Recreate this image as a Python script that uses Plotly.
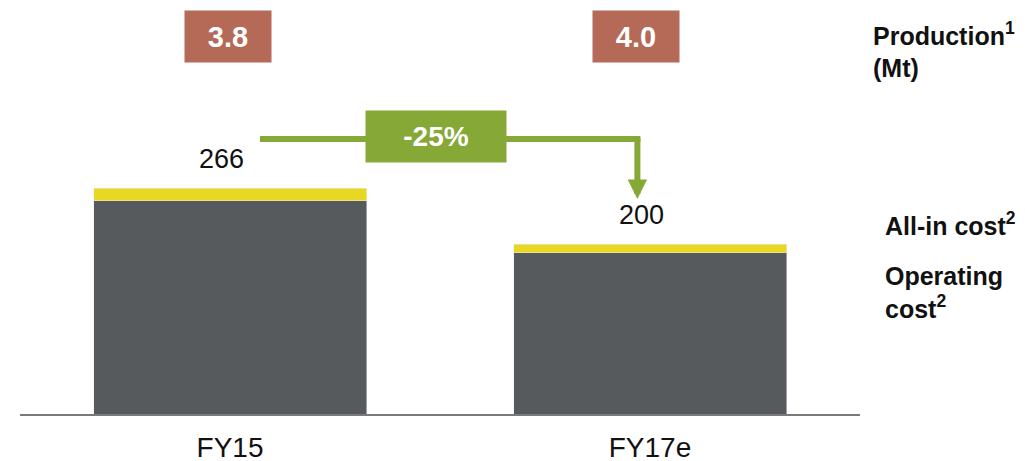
import plotly.graph_objects as go

# ---- data ----
categories = ["FY15", "FY17e"]
operating_cost = [251, 190]
all_in_cost = [266, 200]
production = [3.8, 4.0]
change_label = "-25%"

allin_extra = [a - o for a, o in zip(all_in_cost, operating_cost)]

DARK = "#575a5d"
YELLOW = "#e9d823"
GREEN = "#86a837"
BRICK = "#b56a57"
FONT = "Liberation Sans, Arial, sans-serif"

# page is offset by the 8px body margin
OFF = 8
FIG_W = 1025 - OFF
FIG_H = 461 - OFF
PLOT_H = 406  # plot area height in px (page y 8 .. 414)
PX = 0.8496  # px per unit
Y_MAX = PLOT_H / PX


def up(px):
    return px / PX


def page_y_to_data(py):
    return (414 - py) / PX


fig = go.Figure()
fig.add_trace(go.Bar(x=categories, y=operating_cost, marker_color=DARK,
                     width=0.65, name="Operating cost", hoverinfo="skip"))
fig.add_trace(go.Bar(x=categories, y=allin_extra, marker_color=YELLOW,
                     width=0.65, name="All-in cost", hoverinfo="skip"))

annotations = []
# value labels above bars
for i, (c, v) in enumerate(zip(categories, all_in_cost)):
    annotations.append(dict(x=i, y=v, text=str(v), showarrow=False,
                            xshift=-9, yanchor="bottom", yshift=12,
                            font=dict(family=FONT, size=27, color="#111111")))
# production boxes
for i, p in enumerate(production):
    annotations.append(dict(x=i, y=page_y_to_data(36.5), text=f"<b>{p:.1f}</b>",
                            showarrow=False, xshift=-2 - 12 * i,
                            bgcolor=BRICK, width=86, height=51, borderpad=0,
                            font=dict(family=FONT, size=29, color="white")))

# arrow geometry
line_y = page_y_to_data(139)
x_start = 0.0714
x_end = 0.970
tip_y = page_y_to_data(199)

fig.add_shape(type="line", x0=x_start, x1=x_end + 0.0071, y0=line_y, y1=line_y,
              xref="x", yref="y", line=dict(color=GREEN, width=6))
annotations.append(dict(x=x_end, y=tip_y, ax=x_end, ay=line_y + up(3),
                        axref="x", ayref="y", xref="x", yref="y", text="",
                        showarrow=True, arrowhead=2, arrowsize=0.65,
                        arrowwidth=6, arrowcolor=GREEN, standoff=0,
                        startstandoff=0))
annotations.append(dict(x=0.49, y=page_y_to_data(136.5), text=f"<b>{change_label}</b>",
                        showarrow=False, bgcolor=GREEN, width=140, height=51,
                        borderpad=0,
                        font=dict(family=FONT, size=28, color="white")))

# right-side legend texts
side = [
    ("Production<sup>1</sup><br>(Mt)", 871, 50),
    ("All-in cost<sup>2</sup>", 883, 224),
    ("Operating<br>cost<sup>2</sup>", 883, 292),
]
for txt, px, py in side:
    annotations.append(dict(xref="paper", yref="paper",
                            x=(px - 20) / 840, y=(414 - py) / PLOT_H,
                            xanchor="left", yanchor="middle", align="left",
                            text=f"<b>{txt}</b>", showarrow=False,
                            font=dict(family=FONT, size=25, color="#111111")))

fig.update_layout(
    barmode="stack",
    width=FIG_W, height=FIG_H,
    margin=dict(l=20 - OFF, r=FIG_W - (860 - OFF), t=0,
                b=FIG_H - PLOT_H, autoexpand=False),
    paper_bgcolor="white", plot_bgcolor="white",
    showlegend=False,
    annotations=annotations,
    xaxis=dict(range=[-0.5, 1.5], showline=True, linecolor="#7a7a7a",
               linewidth=2, showgrid=False, zeroline=False, ticks="",
               ticklabelstandoff=7, automargin=False,
               tickfont=dict(family=FONT, size=28, color="#111111")),
    yaxis=dict(range=[0, Y_MAX], visible=False, showgrid=False,
               zeroline=False, automargin=False),
)

fig.write_html("out.html")
